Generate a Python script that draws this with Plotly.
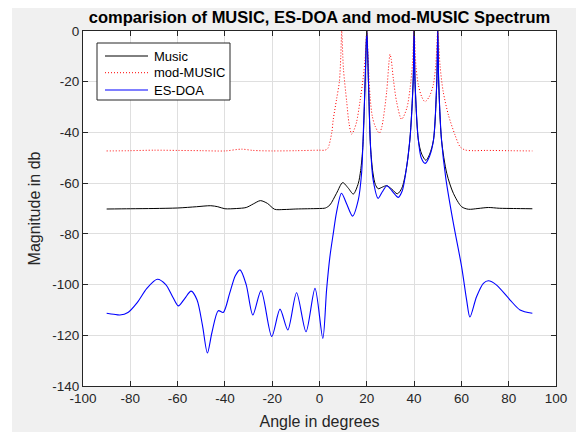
import plotly.graph_objects as go

# ---------------- data ----------------
music_angle = [-90, -80, -70, -60, -52, -46, -43, -40, -35, -31, -28, -25, -22, -19, -15, -10, -5, 0,
               2.5, 4.4, 7.2, 9.8, 12.2, 14.3, 16.4, 17.4, 18.3, 19.3, 20, 20.7, 21.6, 22.6, 23.6, 24.8,
               26.5, 28.4, 30.5, 32.9, 34.8, 36.6, 38.2, 39.6, 40, 40.4, 41.8, 43.2, 45.0, 46.6, 48.2,
               49.6, 50, 50.4, 51.6, 53.8, 56.6, 60.1, 63.0, 67, 71.4, 76, 82, 90]
music_db = [-70.2, -70.1, -70.0, -69.8, -69.3, -68.9, -69.3, -70.1, -70.0, -69.6, -68.2, -66.9, -68.0, -70.3, -70.4, -70.2, -70.1, -70.0,
            -69.8, -68.6, -64.0, -59.8, -62.0, -64.3, -60.1, -55.0, -46.0, -20.0, 0.0, -20.0, -46.0, -56.0, -60.5, -62.2,
            -61.6, -61.0, -62.3, -64.2, -62.0, -55.0, -43.0, -20.0, 0.0, -20.0, -43.0, -48.5, -51.0, -48.5, -43.0,
            -20.0, 0.0, -20.0, -43.0, -56.1, -64.0, -69.3, -70.3, -70.0, -69.6, -69.9, -70.0, -70.1]

mod_angle = [-90, -80, -70, -60, -50, -40, -33, -28, -20, -10, 0, 2.3, 3.5, 5.2, 5.8, 7.2, 8.4, 9.0, 9.4,
             10.1, 11.5, 12.5, 13.6, 14.6, 15.7, 17.1, 18.4, 19.3, 20, 20.7, 21.4, 22.3, 23.5, 25.3,
             26.3, 27.0, 28.4, 29.4, 29.8, 30.3, 31.2, 32.6, 34.7, 36.9, 38.3, 39.3, 40, 40.8, 41.8,
             43.2, 44.6, 46.4, 48.1, 49.2, 50, 51.0, 52.3, 54.5, 57.3, 59.4, 61.5, 65, 70, 80, 90]
mod_db = [-47.3, -47.2, -47.0, -47.1, -47.2, -47.3, -46.6, -47.1, -47.3, -47.2, -47.0, -47.0, -46.3, -40.0, -35.0, -27.0, -20.0, -10.0, 0.0,
          -14.7, -27.9, -36.5, -40.7, -39.0, -35.8, -27.9, -19.0, -11.0, 0.0, -14.0, -26.0, -33.5, -37.5, -40.3,
          -38.0, -34.4, -23.9, -12.1, -9.2, -11.0, -18.7, -27.9, -34.8, -30.5, -22.6, -13.0, 0.0, -14.0, -21.3,
          -25.9, -27.9, -25.9, -21.3, -13.0, 0.0, -14.0, -23.9, -33.1, -41.0, -45.6, -46.9, -47.2, -47.1, -47.2, -47.3]

esdoa_angle = [-90, -87, -84.4, -81, -77, -73, -68.6, -65, -62, -59.7, -57, -54.3, -51.8, -49.5, -47.4, -45.5,
               -42.8, -40.7, -38, -35.6, -33.6, -31, -28.2, -24.7, -20.2, -16.7, -13.4, -9.7, -5.7, -1.9, 1.4,
               3.0, 4.4, 5.8, 7.2, 9.3, 11.4, 14.0, 16.4, 17.8, 18.3, 19.3, 20, 20.7, 21.6, 22.7, 24.8,
               26.5, 28.5, 30.8, 33.3, 35.0, 36.3, 38.2, 39.6, 40, 40.4, 41.8, 43.0, 44.7, 46.5, 48.2,
               49.6, 50, 50.4, 51.6, 53.4, 56.6, 60.1, 62.2, 63.6, 66.4, 69.3, 71.4, 74.9, 80.5, 84.8, 90]
esdoa_db = [-111.3, -111.7, -112.0, -111.0, -107.0, -101.5, -97.9, -100.0, -105.0, -108.4, -105.5, -102.6, -106.0, -116.0, -127.0, -119.0,
            -110.3, -111.0, -103.5, -96.5, -94.2, -100.0, -112.0, -102.4, -120.5, -109.7, -117.9, -103.2, -118.6, -101.5, -121.2,
            -102.0, -89.0, -80.0, -71.5, -64.0, -68.0, -73.0, -66.6, -56.1, -46.0, -20.0, 0.0, -20.0, -46.0, -58.8, -66.0,
            -63.5, -61.0, -63.2, -65.6, -63.0, -57.0, -43.0, -20.0, 0.0, -20.0, -43.0, -50.0, -52.2, -49.5, -43.0,
            -20.0, 0.0, -20.0, -43.0, -58.0, -75.8, -93.0, -106.0, -112.8, -104.8, -99.5, -98.5, -100.2, -106.0, -110.0, -111.3]

series_names = ["Music", "mod-MUSIC", "ES-DOA"]

assert len(music_angle) == len(music_db), (len(music_angle), len(music_db))
assert len(mod_angle) == len(mod_db), (len(mod_angle), len(mod_db))
assert len(esdoa_angle) == len(esdoa_db), (len(esdoa_angle), len(esdoa_db))

x_ticks = [-100, -80, -60, -40, -20, 0, 20, 40, 60, 80, 100]
y_ticks = [-140, -120, -100, -80, -60, -40, -20, 0]

# ---------------- figure ----------------
FONT = "Liberation Sans, Arial, Helvetica, sans-serif"
AX = "#262626"
styles = [
    dict(color="#000000", width=1),
    dict(color="#ff0000", width=1, dash="1px,2px"),
    dict(color="#0000ff", width=1.1),
]

fig = go.Figure()
for name, xs, ys, st in zip(series_names,
                            [music_angle, mod_angle, esdoa_angle],
                            [music_db, mod_db, esdoa_db], styles):
    fig.add_trace(go.Scatter(x=xs, y=ys, name=name, mode="lines", showlegend=False,
                             line=dict(shape="spline", smoothing=0.8, **st)))

# page is drawn with an 8px body margin: figure occupies 576x424 of the 584x432 window
W, H = 576, 424
L, R, T, B = 75, 28, 23, 46
pw, ph = W - L - R, H - T - B


def px(xp):
    return (xp - L) / pw


def py(yp):
    return (H - B - yp) / ph


shapes = [
    # extra white strip at left (figure window edge)
    dict(type="rect", xref="paper", yref="paper", x0=px(-5), x1=px(4), y0=py(440), y1=py(-5),
         fillcolor="white", line=dict(width=0), layer="below"),
    # legend box
    dict(type="rect", xref="paper", yref="paper", x0=px(89), x1=px(222), y0=py(92), y1=py(35),
         fillcolor="white", line=dict(color=AX, width=1), layer="above"),
]
annotations = []
legend_rows = [48, 64.7, 82]
for name, st, yr in zip(series_names, styles, legend_rows):
    shapes.append(dict(type="line", xref="paper", yref="paper", x0=px(97), x1=px(140),
                       y0=py(yr), y1=py(yr), line=st, layer="above"))
    annotations.append(dict(text=name, xref="paper", yref="paper", x=px(144), y=py(yr),
                            xanchor="left", yanchor="middle", showarrow=False,
                            font=dict(family=FONT, size=13, color="black")))

fig.update_layout(
    width=W, height=H,
    margin=dict(l=L, r=R, t=T, b=B, autoexpand=False),
    paper_bgcolor="#f0f0f0",
    plot_bgcolor="white",
    font=dict(family=FONT, size=13, color=AX),
    title=dict(text="<b>comparision of MUSIC, ES-DOA and mod-MUSIC Spectrum</b>",
               xref="container", x=311.5 / W, xanchor="center",
               yref="container", y=1 - 9.5 / H, yanchor="middle",
               font=dict(family=FONT, size=16.5, color="black")),
    shapes=shapes,
    annotations=annotations,
    showlegend=False,
)

fig.update_xaxes(range=[-100, 100], tickvals=x_ticks, ticktext=[str(v) for v in x_ticks],
                 showgrid=True, gridcolor="#dfdfdf", gridwidth=1, zeroline=False,
                 showline=True, linecolor=AX, linewidth=1, mirror="ticks",
                 ticks="inside", ticklen=5, tickcolor=AX,
                 tickfont=dict(family=FONT, size=13.5, color=AX),
                 title=dict(text="Angle in degrees", standoff=10,
                            font=dict(family=FONT, size=16, color=AX)))
fig.update_yaxes(range=[-140, 0], tickvals=y_ticks, ticktext=[str(v) for v in y_ticks],
                 showgrid=True, gridcolor="#dfdfdf", gridwidth=1, zeroline=False,
                 showline=True, linecolor=AX, linewidth=1, mirror="ticks",
                 ticks="inside", ticklen=5, tickcolor=AX,
                 tickfont=dict(family=FONT, size=13.5, color=AX),
                 title=dict(text="Magnitude in db", standoff=7,
                            font=dict(family=FONT, size=16, color=AX)))

fig.write_html("out.html")
